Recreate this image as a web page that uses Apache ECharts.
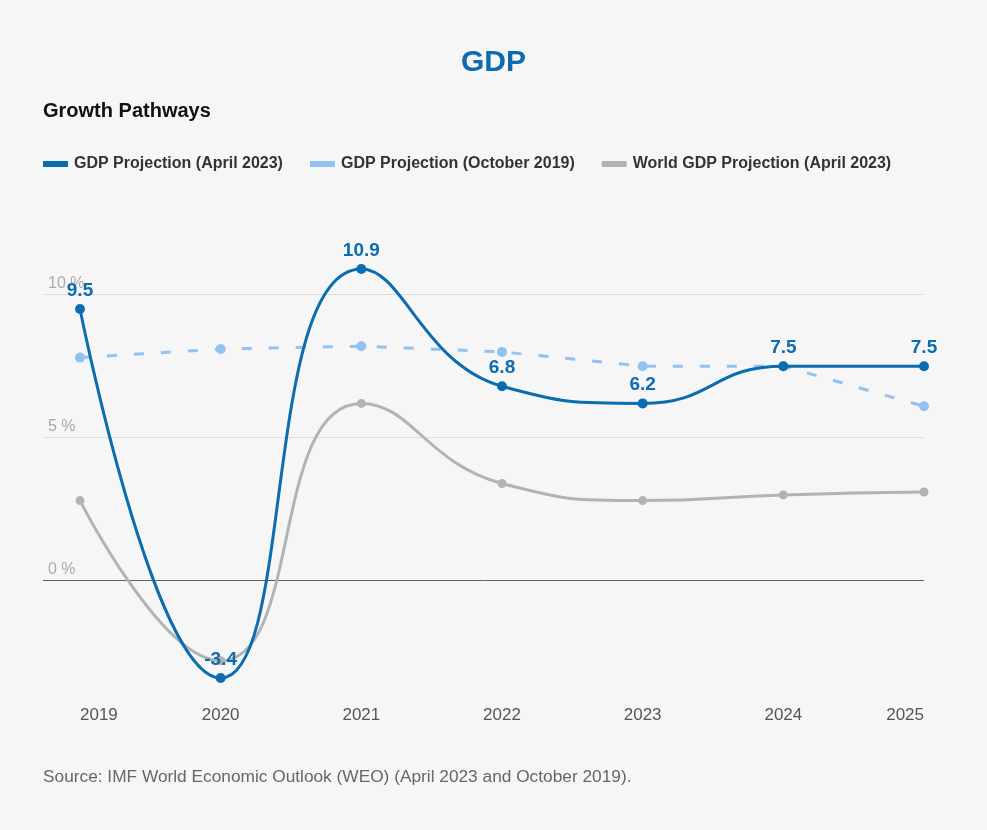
<!DOCTYPE html>
<html>
<head>
<meta charset="utf-8">
<script src="https://cdn.jsdelivr.net/npm/echarts@6/dist/echarts.min.js"></script>
<style>
html,body{margin:0;padding:0;background:#f6f6f6;}
#chart{width:987px;height:830px;}
</style>
</head>
<body>
<div id="chart"></div>
<script>
const years = ['2019', '2020', '2021', '2022', '2023', '2024', '2025'];
const gdpApr2023 = [9.5, -3.4, 10.9, 6.8, 6.2, 7.5, 7.5];
const gdpOct2019 = [7.8, 8.1, 8.2, 8.0, 7.5, 7.5, 6.1];
const worldApr2023 = [2.8, -2.8, 6.2, 3.4, 2.8, 3.0, 3.1];
const seriesNames = ['GDP Projection (April 2023)', 'GDP Projection (October 2019)', 'World GDP Projection (April 2023)'];
const yTicks = [-5, 0, 5, 10, 15];

const DARK = '#0b6cb0', LIGHT = '#93c2f0', GRAY = '#b2b3b5';
const FONT = '"Liberation Sans", Arial, Helvetica, sans-serif';

const chart = echarts.init(document.getElementById('chart'), null, {renderer: 'canvas'});
const gridTop = 151.7, gridBottom = 106.3;

chart.setOption({
  backgroundColor: '#f6f6f6',
  textStyle: {fontFamily: FONT},
  title: [
    {text: 'GDP', left: 'center', top: 43, textStyle: {fontSize: 30, fontWeight: 'bold', color: '#0d6cb1', fontFamily: FONT}},
    {text: 'Growth Pathways', left: 38, top: 96, textStyle: {fontSize: 20, fontWeight: 'bold', color: '#111', fontFamily: FONT}}
  ],
  legend: {
    left: 38, top: 151,
    icon: 'rect', itemWidth: 25, itemHeight: 6, itemGap: 27,
    textStyle: {fontSize: 16, fontWeight: 'bold', color: '#333', fontFamily: FONT, padding: [0, 0, 0, 1]},
    data: seriesNames
  },
  grid: [
    {left: 43, right: 63, top: gridTop, bottom: gridBottom},
    {left: 80, right: 63, top: gridTop, bottom: gridBottom}
  ],
  xAxis: [
    {gridIndex: 0, type: 'category', data: years, show: false},
    {gridIndex: 1, type: 'category', data: years, boundaryGap: false, offset: -24,
      axisLine: {show: false}, axisTick: {show: false}, splitLine: {show: false},
      axisLabel: {margin: 7, fontSize: 17, color: '#555', fontFamily: FONT, alignMinLabel: 'left', alignMaxLabel: 'right'}}
  ],
  yAxis: [
    {gridIndex: 0, type: 'value', min: yTicks[0], max: yTicks[yTicks.length - 1], interval: 5,
      axisLine: {show: false}, axisTick: {show: false},
      axisLabel: {inside: true, margin: 5, verticalAlign: 'bottom', padding: [0, 0, 3, 0], fontSize: 16, color: '#aaa', fontFamily: FONT,
        formatter: v => (v === yTicks[0] || v === yTicks[yTicks.length - 1]) ? '' : v + ' %'},
      splitLine: {show: true, lineStyle: {width: 1, color: ['rgba(0,0,0,0)', '#5f6166', '#dcdcdc', '#dcdcdc', 'rgba(0,0,0,0)']}}
    },
    {gridIndex: 1, type: 'value', min: yTicks[0], max: yTicks[yTicks.length - 1], interval: 5, show: false, splitLine: {show: false}}
  ],
  series: [
    {
      name: seriesNames[2], type: 'line', xAxisIndex: 1, yAxisIndex: 1, data: worldApr2023,
      smooth: 0.5, symbol: 'circle', symbolSize: 9, z: 2,
      lineStyle: {color: GRAY, width: 3}, itemStyle: {color: GRAY}
    },
    {
      name: seriesNames[1], type: 'line', xAxisIndex: 1, yAxisIndex: 1, data: gdpOct2019,
      smooth: false, symbol: 'circle', symbolSize: 10, z: 3,
      lineStyle: {color: LIGHT, width: 3, type: [10, 17]}, itemStyle: {color: LIGHT}
    },
    {
      name: seriesNames[0], type: 'line', xAxisIndex: 1, yAxisIndex: 1, data: gdpApr2023,
      smooth: 0.5, symbol: 'circle', symbolSize: 10, z: 4,
      lineStyle: {color: DARK, width: 3}, itemStyle: {color: DARK},
      label: {show: true, position: 'top', distance: 4, fontSize: 19, fontWeight: 'bold', color: DARK, fontFamily: FONT}
    }
  ],
  graphic: [
    {type: 'text', left: 43, top: 769, style: {text: 'Source: IMF World Economic Outlook (WEO) (April 2023 and October 2019).', fontSize: 17.3, fill: '#666', fontFamily: FONT}}
  ]
});
</script>
</body>
</html>
